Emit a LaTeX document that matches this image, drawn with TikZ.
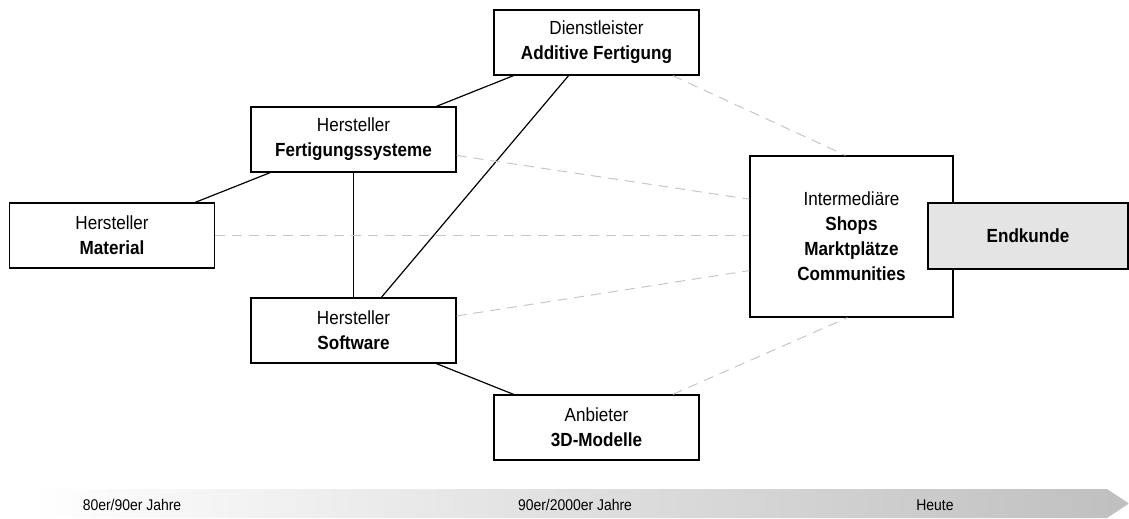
\documentclass[tikz,border=0pt]{standalone}
\usepackage{fontspec}
\setmainfont{Liberation Sans}[FakeStretch=0.9]
\usetikzlibrary{calc}
\tikzset{
  actorbox/.style={draw, line width=1.3pt, minimum width=205pt, minimum height=65pt,
    inner sep=0pt, align=center, font=\fontsize{19}{25}\selectfont},
  solidln/.style={line width=1.2pt},
  grayln/.style={line width=1pt, gray!45, dash pattern=on 10pt off 7pt},
  eralbl/.style={font=\fontsize{15.5}{16}\selectfont},
}
\definecolor{kundefill}{RGB}{228,228,228}

\begin{document}
\begin{tikzpicture}[x=1pt, y=-1pt]
    \useasboundingbox (0,0) rectangle (1129,519);

    % time axis
    \shade[left color=white, right color=gray!50]
      (30,489) -- (1107,489) -- (1129,503.5) -- (1107,518) -- (30,518) -- cycle;
    \node[eralbl] (era1) at (132,505) {80er/90er Jahre};
    \node[eralbl] (era2) at (575,505) {90er/2000er Jahre};
    \node[eralbl] (era3) at (935,505) {Heute};

    % actors
    \node[actorbox] (dienst) at (596.5,42.5) {Dienstleister\\\textbf{Additive Fertigung}};
    \node[actorbox] (hstFert) at (353.5,139.5) {Hersteller\\\textbf{Fertigungssysteme}};
    \node[actorbox] (hstMat) at (112,235.5) {Hersteller\\\textbf{Material}};
    \node[actorbox] (hstSoft) at (353.5,330.5) {Hersteller\\\textbf{Software}};
    \node[actorbox] (anb3d) at (596.5,427.5) {Anbieter\\\textbf{3D-Modelle}};
    \node[actorbox, minimum width=203pt, minimum height=161pt] (inter) at (851.5,236.5)
      {Intermedi\"are\\\textbf{Shops}\\\textbf{Marktpl\"atze}\\\textbf{Communities}};
    \node[actorbox, minimum width=200pt, minimum height=66pt, fill=kundefill] (kunde) at (1028,236)
      {\textbf{Endkunde}};

    % solid links
    \draw[solidln] (dienst) -- (hstFert);
    \draw[solidln] (dienst) -- (hstSoft);
    \draw[solidln] (hstFert) -- (hstMat);
    \draw[solidln] (hstFert) -- (hstSoft);
    \draw[solidln] (hstSoft) -- (anb3d);

    % dashed links to intermediaries
    \draw[grayln] ($(dienst.south west)!0.87!(dienst.south east)$) -- ($(inter.north west)!0.47!(inter.north east)$);
    \draw[grayln] ($(hstFert.north east)!0.74!(hstFert.south east)$) -- ($(inter.north west)!0.27!(inter.south west)$);
    \draw[grayln] (hstMat.east) -- (hstMat.east -| inter.west);
    \draw[grayln] ($(hstSoft.north east)!0.28!(hstSoft.south east)$) -- ($(inter.north west)!0.71!(inter.south west)$);
    \draw[grayln] ($(anb3d.north west)!0.87!(anb3d.north east)$) -- ($(inter.south west)!0.48!(inter.south east)$);
\end{tikzpicture}
\end{document}
